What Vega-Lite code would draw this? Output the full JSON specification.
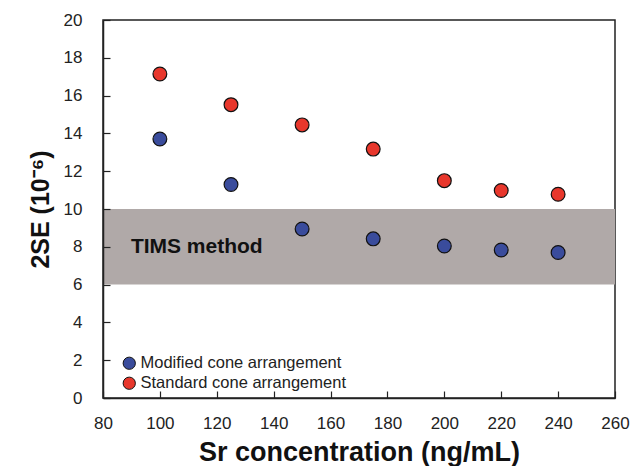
{
  "$schema": "https://vega.github.io/schema/vega-lite/v6.json",
  "autosize": "none",
  "padding": {"left": 103, "top": 20, "right": 18, "bottom": 68},
  "width": 512,
  "height": 378,
  "background": "white",
  "config": {
    "font": "Liberation Sans",
    "view": {"stroke": "#222", "strokeWidth": 1.5},
    "axis": {"grid": false, "ticks": true, "domainColor": "#222", "domainWidth": 1.5, "tickColor": "#222", "tickWidth": 1.2, "labelColor": "#222", "labelFontSize": 17, "labelOverlap": false, "titleColor": "#111", "titleFontWeight": "bold"}
  },
  "datasets": {
    "points": [
      {"conc": 100, "se": 13.7, "series": "Modified cone arrangement"},
      {"conc": 125, "se": 11.3, "series": "Modified cone arrangement"},
      {"conc": 150, "se": 8.94, "series": "Modified cone arrangement"},
      {"conc": 175, "se": 8.42, "series": "Modified cone arrangement"},
      {"conc": 200, "se": 8.04, "series": "Modified cone arrangement"},
      {"conc": 220, "se": 7.83, "series": "Modified cone arrangement"},
      {"conc": 240, "se": 7.7, "series": "Modified cone arrangement"},
      {"conc": 100, "se": 17.14, "series": "Standard cone arrangement"},
      {"conc": 125, "se": 15.52, "series": "Standard cone arrangement"},
      {"conc": 150, "se": 14.45, "series": "Standard cone arrangement"},
      {"conc": 175, "se": 13.17, "series": "Standard cone arrangement"},
      {"conc": 200, "se": 11.5, "series": "Standard cone arrangement"},
      {"conc": 220, "se": 10.98, "series": "Standard cone arrangement"},
      {"conc": 240, "se": 10.78, "series": "Standard cone arrangement"}
    ],
    "band": [{"x1": 80, "x2": 260, "y1": 6, "y2": 10, "label": "TIMS method", "lx": 89.8, "ly": 8}]
  },
  "layer": [
    {
      "data": {"name": "band"},
      "mark": {"type": "rect", "color": "#b0a9a8"},
      "encoding": {
        "x": {"field": "x1", "type": "quantitative", "scale": {"domain": [80, 260], "nice": false},
          "axis": {"title": "Sr concentration (ng/mL)", "titleFontSize": 27, "titlePadding": 8, "values": [80,100,120,140,160,180,200,220,240,260], "tickCount": 10, "ticks": true, "tickSize": -7, "zindex": 2, "labelPadding": 24, "labelFlush": false, "labelOverlap": false, "labelFontSize": 17}},
        "x2": {"field": "x2"},
        "y": {"field": "y1", "type": "quantitative", "scale": {"domain": [0, 20], "nice": false},
          "axis": {"title": "2SE (10⁻⁶)", "titleFontSize": 25, "titlePadding": 10, "values": [0,2,4,6,8,10,12,14,16,18,20], "tickCount": 11, "ticks": true, "tickSize": -7, "zindex": 2, "labelPadding": 28, "labelFlush": false, "labelOverlap": false, "labelFontSize": 17}},
        "y2": {"field": "y2"}
      }
    },
    {
      "data": {"name": "band"},
      "mark": {"type": "text", "align": "left", "baseline": "middle", "fontSize": 21, "fontWeight": "bold", "color": "#111"},
      "encoding": {
        "x": {"field": "lx", "type": "quantitative"},
        "y": {"field": "ly", "type": "quantitative"},
        "text": {"field": "label"}
      }
    },
    {
      "data": {"name": "points"},
      "mark": {"type": "point", "shape": "circle", "filled": true, "size": 190, "opacity": 1, "stroke": "#111", "strokeWidth": 1.2},
      "encoding": {
        "x": {"field": "conc", "type": "quantitative"},
        "y": {"field": "se", "type": "quantitative"},
        "color": {"field": "series", "type": "nominal",
          "scale": {"domain": ["Modified cone arrangement", "Standard cone arrangement"], "range": ["#3a4c9c", "#e8372c"]},
          "legend": {"title": null, "orient": "none", "legendX": 18, "legendY": 335, "labelFontSize": 16.5, "labelLimit": 400, "labelColor": "#222", "symbolSize": 150, "symbolStrokeColor": "#111", "symbolStrokeWidth": 1, "rowPadding": 3, "labelOffset": 3, "symbolType": "circle"}}
      }
    }
  ]
}
